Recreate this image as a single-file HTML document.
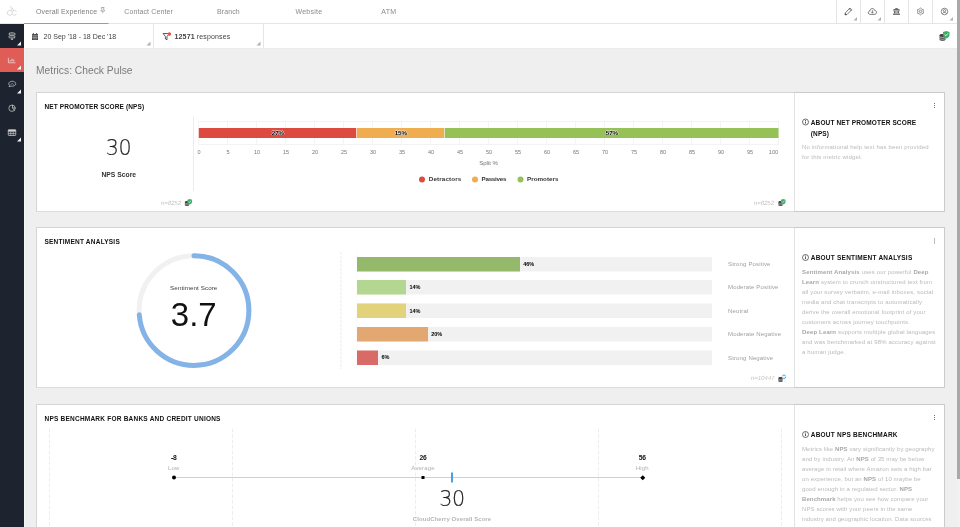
<!DOCTYPE html>
<html lang="en">
<head>
<meta charset="utf-8">
<title>Metrics: Check Pulse</title>
<style>
*{box-sizing:border-box}
html,body{margin:0;padding:0;width:960px;height:527px;overflow:hidden;background:#efefef}
#app{position:absolute;left:0;top:0;width:1920px;height:1054px;transform:scale(.5);transform-origin:0 0;
  font-family:"Liberation Sans","DejaVu Sans",sans-serif;color:#333;background:#efefef;overflow:hidden}
.t{position:absolute;white-space:nowrap;line-height:1;margin:0;font-weight:400}
svg{position:absolute;overflow:visible}
.box{position:absolute}
/* top nav */
#topnav{position:absolute;left:0;top:0;width:1914px;height:48px;background:#fff;border-bottom:2px solid #e6e6e6}
.tab{font-size:14px;color:#8a8a8a;letter-spacing:.23px}
#tabline{position:absolute;left:48px;top:46px;width:169px;height:2px;background:#e87d77}
.tool{position:absolute;top:0;width:48px;height:46px;border-left:2px solid #e4e4e4}
.tri{position:absolute;right:6px;bottom:5px;width:0;height:0;border-style:solid;border-width:0 0 7px 7px;border-color:transparent transparent #b0b0b0 transparent}
/* sidebar */
#side{position:absolute;left:0;top:48px;width:48px;height:1006px;background:#1e2330;box-shadow:1.5px 0 0 #f9f9f9}
#side .it{position:absolute;left:0;width:48px;height:48px}
#side .it.on{background:#e05d57}
#side .tri{border-color:transparent transparent #f4f4f4 transparent;right:6.5px;bottom:5px;border-width:0 0 8px 8px}
#side svg{fill:none;stroke:#d2d2d2;stroke-width:1.4}
/* filter bar */
#filters{position:absolute;left:48px;top:48px;width:1866px;height:48px;background:#fff;box-shadow:0 1px 3px rgba(0,0,0,.05)}
#filters .cell{position:absolute;top:0;height:48px;border-right:2px solid #e6e6e6}
#filters .tri{right:5px;bottom:5px;border-width:0 0 8px 8px}
.ft{font-size:14px;color:#444;letter-spacing:.3px}
/* scrollbar */
#sb{position:absolute;left:1914px;top:0;width:6px;height:1054px;background:#f1f1f1}
#sb i{position:absolute;left:0;top:0;width:6px;height:958px;background:#a9a9a9}
h1.t{font-size:20.5px;color:#7a7a7a;letter-spacing:.03px}
.card{position:absolute;left:72px;width:1818px;background:#fff;border:2px solid #d5d5d5;border-bottom-color:#dcdcdc}
.card i{position:absolute;left:1514px;top:-2px;bottom:-2px;right:-2px;border:2px solid #cbcbcb;border-left:0}
.vdiv{position:absolute;width:2px;background:#e2e2e2}
h2.t{font-size:13px;font-weight:700;color:#111;letter-spacing:.45px}
h3.t{font-size:13px;font-weight:700;color:#111;letter-spacing:.45px;line-height:22px;white-space:nowrap}
.help{font-size:12px;line-height:20px;color:#bababa;letter-spacing:.35px}
.help b{color:#a8a8a8}
.big{font-family:"DejaVu Sans","Liberation Sans",sans-serif;font-weight:200;font-size:43.5px;color:#222;-webkit-text-stroke:.35px #222;letter-spacing:-1px}
.big span{display:inline-block;transform:scaleX(.95)}
.n{font-size:12px;color:#c4c4c4;letter-spacing:0}
.n em{display:inline-block;font-style:normal;transform:skewX(-12deg)}
.ax{font-size:11px;color:#777}
.lg{font-size:11.5px;font-weight:700;color:#333;letter-spacing:.3px}
.dl{font-size:12.5px;font-weight:700;color:#000;letter-spacing:-.2px;text-shadow:0 0 1.5px #fff,1px 0 0 rgba(255,255,255,.6),-1px 0 0 rgba(255,255,255,.6),0 1px 0 rgba(255,255,255,.6),0 -1px 0 rgba(255,255,255,.6)}
.bl{font-size:11px;font-weight:700;color:#000}
.cat{font-size:12px;color:#a0a0a0;letter-spacing:.3px}
.bv{font-size:13.5px;font-weight:700;color:#111;letter-spacing:-.4px}
.bk{font-size:12px;color:#b0b0b0;letter-spacing:.3px}
.vdash{position:absolute;width:2px;background-image:linear-gradient(to bottom,#ededed 0,#ededed 74%,transparent 74%);background-size:2px 11px;background-repeat:repeat-y}
.dots{position:absolute;width:2px;height:2px;background:#777;box-shadow:0 4px 0 #777,0 -4px 0 #777}
.ico{fill:none;stroke:#555;stroke-width:1.6;stroke-linejoin:round;stroke-linecap:round}
</style>
</head>
<body>
<div id="app">
<header id="topnav">
<svg style="left:0px;top:0px" width="48" height="48" viewBox="0 0 48 48" ><g fill="none" stroke="#cdcdcd" stroke-width="1.500" stroke-linecap="round"><path d="M23 22a5 5 0 1 0 .3 7"/><path d="M32.500 22.300a4.800 4.800 0 1 0 0 6.600"/><path d="M20.500 12.500c2.500 2 5 5 7 9"/><path d="M22.500 21.500c.3-2 .8-3.500 1.500-4.700"/></g></svg>
<div class="t tab" style="left:72px;top:23px;transform:translate(0,-50%);color:#7d7d7d">Overall Experience</div>
<svg style="left:200px;top:13.5px" width="11" height="14" viewBox="0 0 11 14" ><g fill="none" stroke="#8a8a8a" stroke-width="1.300"><path d="M2.500 1h6M3.500 1v4.500L1.500 8h8L7.500 5.500V1M5.500 8v4.500"/></g></svg>
<div class="t tab" style="left:248.5px;top:23px;transform:translate(0,-50%);">Contact Center</div>
<div class="t tab" style="left:434px;top:23px;transform:translate(0,-50%);">Branch</div>
<div class="t tab" style="left:591px;top:23px;transform:translate(0,-50%);letter-spacing:.5px">Website</div>
<div class="t tab" style="left:762.5px;top:23px;transform:translate(0,-50%);letter-spacing:.6px">ATM</div>
<div id="tabline"></div>
<div class="tool" style="left:1672px"><i class="tri"></i></div>
<div class="tool" style="left:1720px"><i class="tri"></i></div>
<div class="tool" style="left:1768px"></div>
<div class="tool" style="left:1816px"></div>
<div class="tool" style="left:1864px"><i class="tri"></i></div>
<svg style="left:1689px;top:15px" width="16" height="16" viewBox="0 0 16 16" ><g class="ico" stroke-width="1.5"><path d="M11.500 1.600l3 3L5 14.100l-3.600.6.600-3.600z"/><path d="M10 3.100l3 3"/><path d="M1.800 14.300l1.700-.3-1.400-1.400z" fill="#555"/></g></svg>
<svg style="left:1735px;top:15px" width="20" height="16" viewBox="0 0 20 16" ><g class="ico" stroke-width="1.45"><path d="M5.200 13.800c-2 0-3.600-1.400-3.600-3.300 0-1.600 1.100-2.900 2.700-3.200C4.700 4.300 6.800 2.200 9.500 2.200c2.500 0 4.500 1.600 5.100 3.800 2 .2 3.500 1.800 3.500 3.800 0 2.200-1.700 4-3.900 4z"/><path d="M9.800 6v4.800M7.800 9l2 2.100 2-2.100" stroke-width="1.3"/></g></svg>
<svg style="left:1785px;top:15px" width="16" height="16" viewBox="0 0 16 16" ><g fill="#6a6a6a"><path d="M8 1c1.500 0 2.600.6 3 1.700L15 4.300v1.800H1V4.300l4-1.600C5.400 1.600 6.500 1 8 1z"/><rect x="2.800" y="6.500" width="3.400" height="5.600"/><rect x="9.800" y="6.500" width="3.400" height="5.600"/><rect x="7" y="6.500" width="2" height="5.600" opacity=".5"/><rect x="1" y="12.300" width="14" height="2.500"/></g></svg>
<svg style="left:1832.5px;top:14.5px" width="16" height="16" viewBox="0 0 16 16" ><g fill="none" stroke="#5a5a5a" stroke-width="1.3" stroke-linejoin="round"><polygon points="8.00,1.10 10.70,3.32 13.98,4.55 13.40,8.00 13.98,11.45 10.70,12.68 8.00,14.90 5.30,12.68 2.02,11.45 2.60,8.00 2.02,4.55 5.30,3.32"/><circle cx="8" cy="8" r="2.4"/></g></svg>
<svg style="left:1880.5px;top:14.5px" width="16" height="16" viewBox="0 0 16 16" ><g fill="none" stroke="#555" stroke-width="1.35"><circle cx="8" cy="8" r="6.6"/><circle cx="8" cy="6.3" r="2.3"/><path d="M3.8 12.6c.9-2 2.300-2.800 4.200-2.800s3.300.8 4.200 2.800"/></g></svg>
</header>
<aside id="side">
<div class="it" style="top:0px"><i class="tri"></i></div>
<div class="it on" style="top:48px"><i class="tri"></i></div>
<div class="it" style="top:96px"><i class="tri"></i></div>
<div class="it" style="top:144px"></div>
<div class="it" style="top:192px"><i class="tri"></i></div>
<svg style="left:15px;top:16px" width="18" height="16" viewBox="0 0 18 16" ><path d="M9 .5v1.500M3.500 2h10.500l1.500 2-1.500 2H3.500zM14.500 7.800H4l-1.500 2 1.500 2h10.500zM9 11.800v3M6.800 14.800h4.400" stroke-width="1.500"/></svg>
<svg style="left:16px;top:66.5px" width="15" height="11" viewBox="0 0 15 11" ><path d="M.8 .5v10H14.800" stroke="#f6e3e1" stroke-width="1.400"/><path d="M4.500 8V5M8 8V2.500M11.500 8V4" stroke-width="2" stroke="#f3cbc8"/></svg>
<svg style="left:15.5px;top:113px" width="17" height="15" viewBox="0 0 17 15" ><path d="M8.500 1.500c3.900 0 7 2.200 7 5s-3.100 5-7 5c-1 0-1.900-.1-2.700-.4L2 12.500l1.100-2.400C2.100 9.200 1.500 8 1.500 6.500c0-2.800 3.100-5 7-5z"/><path d="M5 8.800c1.100-1.800 2.200-2.500 3.500-2.500s2.400.7 3.500 2.500" stroke-width="2" opacity=".5"/></svg>
<svg style="left:15.5px;top:160px" width="17" height="16" viewBox="0 0 17 16" ><circle cx="8" cy="8.500" r="6.300"/><path d="M9 1.500v6.500h6.500M9 8l4 5" stroke-width="1.400"/></svg>
<svg style="left:15px;top:210px" width="18" height="15" viewBox="0 0 18 15" ><rect x="1.500" y="1.500" width="15" height="11.500" rx="1"/><path d="M1.500 5.200h15M1.500 9.100h15M6.500 5.200v7.800M11.500 5.200v7.800" stroke-width="1.200"/><rect x="1.500" y="1.500" width="15" height="3" fill="#d2d2d2" stroke="none"/></svg>
</aside>
<div id="filters"><div class="cell" style="left:0;width:260px"><i class="tri"></i></div><div class="cell" style="left:260px;width:220px"><i class="tri"></i></div></div>
<svg style="left:63px;top:64.5px" width="14" height="16" viewBox="0 0 14 16" ><path d="M1 3.200h12v11.800H1z" fill="#444"/><path d="M3.800 1v3.500M10.200 1v3.500" stroke="#444" stroke-width="1.800"/><path d="M1 6.500h12M1 10.500h12M5 6.500v8M9 6.500v8" stroke="#fff" stroke-width=".9" opacity=".85"/></svg>
<div class="t ft" style="left:87px;top:72px;transform:translate(0,-50%);letter-spacing:0">20 Sep '18 - 18 Dec '18</div>
<svg style="left:324.5px;top:64.5px" width="17" height="17" viewBox="0 0 17 17" ><path d="M1.200 2h12.600L9 8v6.500l-3.200-1.700V8z" fill="none" stroke="#3d3d3d" stroke-width="1.700" stroke-linejoin="round"/><circle cx="13.800" cy="3" r="3.500" fill="#e4544c"/></svg>
<div class="t ft" style="left:349px;top:72px;transform:translate(0,-50%);"><b>12571</b> responses</div>
<svg style="left:1878px;top:61.5px" width="22" height="20" viewBox="0 0 22 20" ><g transform="scale(1.0)"><path d="M1 8.5c0-1.6 2.7-2.6 6-2.6s6 1 6 2.6v8.5c0 1.6-2.7 2.7-6 2.7s-6-1.1-6-2.7z" fill="#444"/><path d="M1 11.2c1.2 1.3 3.4 1.8 6 1.8s4.8-.5 6-1.8M1 14.8c1.2 1.3 3.4 1.8 6 1.8s4.8-.5 6-1.8" fill="none" stroke="#fff" stroke-width="1.1"/><path d="M14.5 0l6.5 2.2v5.2c0 3.6-2.6 6.1-6.5 7.6-3.900-1.500-6.500-4-6.500-7.600V2.200z" fill="#3fae6a"/><path d="M11.2 7.200l2.400 2.400 4.400-4.700" fill="none" stroke="#fff" stroke-width="1.7"/></g></svg>
<div id="sb"><i></i></div>
<main>
<h1 class="t " style="left:72px;top:142px;transform:translate(0,-50%);">Metrics: Check Pulse</h1>
<section id="nps">
<div class="card" style="top:184px;height:240px"><i></i></div>
<div class="vdiv" style="left:1588px;top:186px;height:236px"></div>
<h2 class="t " style="left:89px;top:213.5px;transform:translate(0,-50%);letter-spacing:.25px">NET PROMOTER SCORE (NPS)</h2>
<div class="t big" style="left:236.5px;top:295px;transform:translate(-50%,-50%);"><span>30</span></div>
<div class="t lg" style="left:237.5px;top:348.5px;transform:translate(-50%,-50%);font-size:13.5px;letter-spacing:0">NPS Score</div>
<div class="vdiv" style="left:386px;top:233px;height:149px;background:#ececec"></div>
<div class="t n" style="left:322px;top:405.5px;transform:translate(0,-50%);"><em>n=8252</em></div>
<svg style="left:368.5px;top:398px" width="22" height="20" viewBox="0 0 22 20" ><g transform="scale(0.72)"><path d="M1 8.5c0-1.6 2.7-2.6 6-2.6s6 1 6 2.6v8.5c0 1.6-2.7 2.7-6 2.7s-6-1.1-6-2.7z" fill="#444"/><path d="M1 11.2c1.2 1.3 3.4 1.8 6 1.8s4.8-.5 6-1.8M1 14.8c1.2 1.3 3.4 1.8 6 1.8s4.8-.5 6-1.8" fill="none" stroke="#fff" stroke-width="1.1"/><path d="M14.5 0l6.5 2.2v5.2c0 3.6-2.6 6.1-6.5 7.6-3.900-1.500-6.500-4-6.500-7.600V2.200z" fill="#3fae6a"/><path d="M11.2 7.200l2.400 2.400 4.400-4.700" fill="none" stroke="#fff" stroke-width="1.7"/></g></svg>
<div class="t n" style="left:1508px;top:405.5px;transform:translate(0,-50%);"><em>n=8252</em></div>
<svg style="left:1556px;top:398px" width="22" height="20" viewBox="0 0 22 20" ><g transform="scale(0.72)"><path d="M1 8.5c0-1.6 2.7-2.6 6-2.6s6 1 6 2.6v8.5c0 1.6-2.7 2.7-6 2.7s-6-1.1-6-2.7z" fill="#444"/><path d="M1 11.2c1.2 1.3 3.4 1.8 6 1.8s4.8-.5 6-1.8M1 14.8c1.2 1.3 3.4 1.8 6 1.8s4.8-.5 6-1.8" fill="none" stroke="#fff" stroke-width="1.1"/><path d="M14.5 0l6.5 2.2v5.2c0 3.6-2.6 6.1-6.5 7.6-3.900-1.500-6.500-4-6.500-7.600V2.200z" fill="#3fae6a"/><path d="M11.2 7.200l2.400 2.400 4.400-4.700" fill="none" stroke="#fff" stroke-width="1.7"/></g></svg>
<div class="box" style="left:397px;top:242px;width:1161px;height:47px;border-top:1px solid #e6e6e6;border-bottom:1px solid #e6e6e6"></div>
<div class="box" style="left:397px;top:242px;width:1px;height:47px;background:#e9e9e9"></div>
<div class="box" style="left:455px;top:242px;width:1px;height:47px;background:#e9e9e9"></div>
<div class="box" style="left:513px;top:242px;width:1px;height:47px;background:#e9e9e9"></div>
<div class="box" style="left:571px;top:242px;width:1px;height:47px;background:#e9e9e9"></div>
<div class="box" style="left:629px;top:242px;width:1px;height:47px;background:#e9e9e9"></div>
<div class="box" style="left:687px;top:242px;width:1px;height:47px;background:#e9e9e9"></div>
<div class="box" style="left:745px;top:242px;width:1px;height:47px;background:#e9e9e9"></div>
<div class="box" style="left:803px;top:242px;width:1px;height:47px;background:#e9e9e9"></div>
<div class="box" style="left:861px;top:242px;width:1px;height:47px;background:#e9e9e9"></div>
<div class="box" style="left:919px;top:242px;width:1px;height:47px;background:#e9e9e9"></div>
<div class="box" style="left:977px;top:242px;width:1px;height:47px;background:#e9e9e9"></div>
<div class="box" style="left:1035px;top:242px;width:1px;height:47px;background:#e9e9e9"></div>
<div class="box" style="left:1093px;top:242px;width:1px;height:47px;background:#e9e9e9"></div>
<div class="box" style="left:1151px;top:242px;width:1px;height:47px;background:#e9e9e9"></div>
<div class="box" style="left:1209px;top:242px;width:1px;height:47px;background:#e9e9e9"></div>
<div class="box" style="left:1267px;top:242px;width:1px;height:47px;background:#e9e9e9"></div>
<div class="box" style="left:1325px;top:242px;width:1px;height:47px;background:#e9e9e9"></div>
<div class="box" style="left:1383px;top:242px;width:1px;height:47px;background:#e9e9e9"></div>
<div class="box" style="left:1441px;top:242px;width:1px;height:47px;background:#e9e9e9"></div>
<div class="box" style="left:1499px;top:242px;width:1px;height:47px;background:#e9e9e9"></div>
<div class="box" style="left:1557px;top:242px;width:1px;height:47px;background:#e9e9e9"></div>
<div class="box" style="left:397.0px;top:255.5px;width:315.5px;height:20.7px;background:#dd4b40;border-left:1px solid #fff"></div>
<div class="t dl" style="left:555.8px;top:265.5px;transform:translate(-50%,-50%);">27%</div>
<div class="box" style="left:712.5px;top:255.5px;width:176.3px;height:20.7px;background:#f0ad4f;border-left:1px solid #fff"></div>
<div class="t dl" style="left:801.7px;top:265.5px;transform:translate(-50%,-50%);">15%</div>
<div class="box" style="left:888.8px;top:255.5px;width:668.2px;height:20.7px;background:#96c157;border-left:1px solid #fff"></div>
<div class="t dl" style="left:1223.9px;top:265.5px;transform:translate(-50%,-50%);">57%</div>
<div class="t ax" style="left:398px;top:303.5px;transform:translate(-50%,-50%);">0</div>
<div class="t ax" style="left:456px;top:303.5px;transform:translate(-50%,-50%);">5</div>
<div class="t ax" style="left:514px;top:303.5px;transform:translate(-50%,-50%);">10</div>
<div class="t ax" style="left:572px;top:303.5px;transform:translate(-50%,-50%);">15</div>
<div class="t ax" style="left:630px;top:303.5px;transform:translate(-50%,-50%);">20</div>
<div class="t ax" style="left:688px;top:303.5px;transform:translate(-50%,-50%);">25</div>
<div class="t ax" style="left:746px;top:303.5px;transform:translate(-50%,-50%);">30</div>
<div class="t ax" style="left:804px;top:303.5px;transform:translate(-50%,-50%);">35</div>
<div class="t ax" style="left:862px;top:303.5px;transform:translate(-50%,-50%);">40</div>
<div class="t ax" style="left:920px;top:303.5px;transform:translate(-50%,-50%);">45</div>
<div class="t ax" style="left:978px;top:303.5px;transform:translate(-50%,-50%);">50</div>
<div class="t ax" style="left:1036px;top:303.5px;transform:translate(-50%,-50%);">55</div>
<div class="t ax" style="left:1094px;top:303.5px;transform:translate(-50%,-50%);">60</div>
<div class="t ax" style="left:1152px;top:303.5px;transform:translate(-50%,-50%);">65</div>
<div class="t ax" style="left:1210px;top:303.5px;transform:translate(-50%,-50%);">70</div>
<div class="t ax" style="left:1268px;top:303.5px;transform:translate(-50%,-50%);">75</div>
<div class="t ax" style="left:1326px;top:303.5px;transform:translate(-50%,-50%);">80</div>
<div class="t ax" style="left:1384px;top:303.5px;transform:translate(-50%,-50%);">85</div>
<div class="t ax" style="left:1442px;top:303.5px;transform:translate(-50%,-50%);">90</div>
<div class="t ax" style="left:1500px;top:303.5px;transform:translate(-50%,-50%);">95</div>
<div class="t ax" style="left:1556px;top:303.5px;transform:translate(-100%,-50%);">100</div>
<div class="t ax" style="left:977px;top:325.5px;transform:translate(-50%,-50%);font-size:12px;color:#707070">Split %</div>
<div class="box" style="left:838px;top:352.5px;width:12px;height:12px;border-radius:50%;background:#dd4b40"></div>
<div class="t lg" style="left:857.5px;top:358.5px;transform:translate(0,-50%);font-size:12.5px;letter-spacing:0.28px">Detractors</div>
<div class="box" style="left:943.5px;top:352.5px;width:12px;height:12px;border-radius:50%;background:#f0ad4f"></div>
<div class="t lg" style="left:963px;top:358.5px;transform:translate(0,-50%);font-size:12.5px;letter-spacing:-0.5px">Passives</div>
<div class="box" style="left:1035px;top:352.5px;width:12px;height:12px;border-radius:50%;background:#96c157"></div>
<div class="t lg" style="left:1054px;top:358.5px;transform:translate(0,-50%);font-size:12.5px;letter-spacing:0.06px">Promoters</div>
<i class="dots" style="left:1867.5px;top:210px"></i>
<svg style="left:1603.5px;top:237.0px" width="14" height="14" viewBox="0 0 14 14" ><circle cx="7" cy="7" r="6" fill="none" stroke="#222" stroke-width="1.3"/><path d="M7 6.200v4" stroke="#222" stroke-width="1.600"/><circle cx="7" cy="4" r="1" fill="#222"/></svg>
<h3 class="t " style="left:1621.5px;top:233.5px;transform:none;letter-spacing:.27px">ABOUT NET PROMOTER SCORE<br>(NPS)</h3>
<p class="t help" style="left:1604px;top:284px;transform:none;">No informational help text has been provided<br>for this metric widget.</p>
</section>
<section id="sentiment">
<div class="card" style="top:454px;height:322px"><i></i></div>
<div class="vdiv" style="left:1588px;top:456px;height:318px"></div>
<h2 class="t " style="left:89px;top:483px;transform:translate(0,-50%);">SENTIMENT ANALYSIS</h2>
<svg style="left:267.5px;top:500.5px" width="240" height="240" viewBox="267.5 500.5 240 240"><circle cx="387.5" cy="620.5" r="109.75" fill="none" stroke="#f1f1f1" stroke-width="10"/><circle cx="387.5" cy="620.5" r="109.75" fill="none" stroke="#84b3e8" stroke-width="10" stroke-linecap="round" stroke-dasharray="507.5 689.6" transform="rotate(-90 387.5 620.5)"/></svg>
<div class="t " style="left:387.5px;top:577px;transform:translate(-50%,-50%);font-size:12.5px;color:#3c3c3c;letter-spacing:.15px">Sentiment Score</div>
<div class="t " style="left:387.5px;top:629px;transform:translate(-50%,-50%);font-size:66px;color:#111">3.7</div>
<div class="vdash" style="left:681px;top:504px;height:234px;background-size:2px 8px"></div>
<div class="vdash" style="left:713px;top:504px;height:234px;background-size:2px 4px;opacity:.6"></div>
<div class="box" style="left:714px;top:513.5px;width:710px;height:29px;background:#f1f1f1"></div>
<div class="box" style="left:714px;top:513.5px;width:325.5px;height:29px;background:#94b96b"></div>
<div class="t bl" style="left:1046.5px;top:528.0px;transform:translate(0,-50%);">46%</div>
<div class="t cat" style="left:1456px;top:527.5px;transform:translate(0,-50%);">Strong Positive</div>
<div class="box" style="left:714px;top:560.25px;width:710px;height:29px;background:#f1f1f1"></div>
<div class="box" style="left:714px;top:560.25px;width:98px;height:29px;background:#b3d690"></div>
<div class="t bl" style="left:819px;top:574.75px;transform:translate(0,-50%);">14%</div>
<div class="t cat" style="left:1456px;top:574.25px;transform:translate(0,-50%);">Moderate Positive</div>
<div class="box" style="left:714px;top:607.0px;width:710px;height:29px;background:#f1f1f1"></div>
<div class="box" style="left:714px;top:607.0px;width:98px;height:29px;background:#e1d27b"></div>
<div class="t bl" style="left:819px;top:621.5px;transform:translate(0,-50%);">14%</div>
<div class="t cat" style="left:1456px;top:621.0px;transform:translate(0,-50%);">Neutral</div>
<div class="box" style="left:714px;top:653.75px;width:710px;height:29px;background:#f1f1f1"></div>
<div class="box" style="left:714px;top:653.75px;width:141.5px;height:29px;background:#e3a772"></div>
<div class="t bl" style="left:862.5px;top:668.25px;transform:translate(0,-50%);">20%</div>
<div class="t cat" style="left:1456px;top:667.75px;transform:translate(0,-50%);">Moderate Negative</div>
<div class="box" style="left:714px;top:700.5px;width:710px;height:29px;background:#f1f1f1"></div>
<div class="box" style="left:714px;top:700.5px;width:42px;height:29px;background:#d96b66"></div>
<div class="t bl" style="left:763px;top:715.0px;transform:translate(0,-50%);">6%</div>
<div class="t cat" style="left:1456px;top:714.5px;transform:translate(0,-50%);">Strong Negative</div>
<div class="t n" style="left:1502px;top:755.5px;transform:translate(0,-50%);"><em>n=10447</em></div>
<svg style="left:1556px;top:749.5px" width="22" height="20" viewBox="0 0 22 20" ><g transform="scale(0.72)"><path d="M1 8.5c0-1.6 2.7-2.6 6-2.6s6 1 6 2.6v8.5c0 1.6-2.7 2.7-6 2.7s-6-1.1-6-2.7z" fill="#444"/><path d="M1 11.2c1.2 1.3 3.4 1.8 6 1.8s4.8-.5 6-1.8M1 14.8c1.2 1.3 3.4 1.8 6 1.8s4.8-.5 6-1.8" fill="none" stroke="#fff" stroke-width="1.1"/><circle cx="16.5" cy="5" r="5" fill="#e3f1fc" stroke="#4ea6e8" stroke-width="2.600" stroke-dasharray="11 4.700"/></g></svg>
<i class="dots" style="left:1867.5px;top:481px"></i>
<svg style="left:1603.5px;top:508.0px" width="14" height="14" viewBox="0 0 14 14" ><circle cx="7" cy="7" r="6" fill="none" stroke="#222" stroke-width="1.3"/><path d="M7 6.200v4" stroke="#222" stroke-width="1.600"/><circle cx="7" cy="4" r="1" fill="#222"/></svg>
<h3 class="t " style="left:1621.5px;top:504px;transform:none;">ABOUT SENTIMENT ANALYSIS</h3>
<p class="t help" style="left:1604px;top:534px;transform:none;letter-spacing:.3px"><b>Sentiment Analysis</b> uses our powerful <b>Deep</b><br><b>Learn</b> system to crunch unstructured text from<br>all your survey verbatim, e-mail inboxes, social<br>media and chat transcripts to automatically<br>derive the overall emotional footprint of your<br>customers across journey touchpoints.<br><b>Deep Learn</b> supports multiple global languages<br>and was benchmarked at 98% accuracy against<br>a human judge.</p>
</section>
<section id="benchmark">
<div class="card" style="top:808px;height:300px"><i></i></div>
<div class="vdiv" style="left:1588px;top:810px;height:260px"></div>
<h2 class="t " style="left:89px;top:837px;transform:translate(0,-50%);">NPS BENCHMARK FOR BANKS AND CREDIT UNIONS</h2>
<div class="vdash" style="left:98px;top:857px;height:200px"></div>
<div class="vdash" style="left:463.5px;top:857px;height:200px"></div>
<div class="vdash" style="left:829.5px;top:857px;height:200px"></div>
<div class="vdash" style="left:1196px;top:857px;height:200px"></div>
<div class="vdash" style="left:1561.5px;top:857px;height:200px"></div>
<div class="box" style="left:347px;top:954px;width:938px;height:2px;background:#cfcfcf"></div>
<div class="box" style="left:343.5px;top:950.5px;width:8px;height:8px;border-radius:50%;background:#000"></div>
<div class="box" style="left:843px;top:951.5px;width:6px;height:6px;background:#000"></div>
<div class="box" style="left:1281.6px;top:951.8px;width:7px;height:7px;background:#000;transform:rotate(45deg)"></div>
<div class="box" style="left:902px;top:945px;width:3.5px;height:20px;background:#459fe2"></div>
<div class="t bv" style="left:347.5px;top:914.5px;transform:translate(-50%,-50%);">-8</div>
<div class="t bk" style="left:347.5px;top:936px;transform:translate(-50%,-50%);">Low</div>
<div class="t bv" style="left:846px;top:914.5px;transform:translate(-50%,-50%);">26</div>
<div class="t bk" style="left:846px;top:936px;transform:translate(-50%,-50%);">Average</div>
<div class="t bv" style="left:1284.5px;top:914.5px;transform:translate(-50%,-50%);">56</div>
<div class="t bk" style="left:1284.5px;top:936px;transform:translate(-50%,-50%);">High</div>
<div class="t big" style="left:903.5px;top:997.5px;transform:translate(-50%,-50%);"><span>30</span></div>
<div class="t " style="left:904px;top:1037px;transform:translate(-50%,-50%);font-size:12px;font-weight:700;color:#b6b6b6;letter-spacing:.13px">CloudCherry Overall Score</div>
<i class="dots" style="left:1867.5px;top:834px"></i>
<svg style="left:1603.5px;top:861.5px" width="14" height="14" viewBox="0 0 14 14" ><circle cx="7" cy="7" r="6" fill="none" stroke="#222" stroke-width="1.3"/><path d="M7 6.200v4" stroke="#222" stroke-width="1.600"/><circle cx="7" cy="4" r="1" fill="#222"/></svg>
<h3 class="t " style="left:1621.5px;top:857.5px;transform:none;">ABOUT NPS BENCHMARK</h3>
<p class="t help" style="left:1604px;top:887.5px;transform:none;letter-spacing:.2px">Metrics like <b>NPS</b> vary significantly by geography<br>and by industry. An <b>NPS</b> of 35 may be below<br>average in retail where Amazon sets a high bar<br>on experience, but an <b>NPS</b> of 10 maybe be<br>good enough in a regulated sector. <b>NPS</b><br><b>Benchmark</b> helps you see how compare your<br>NPS scores with your peers in the same<br>industry and geographic location. Data sources<br>include ongoing NPS surveys of customers.</p>
</section>
</main>
</div>
</body>
</html>
